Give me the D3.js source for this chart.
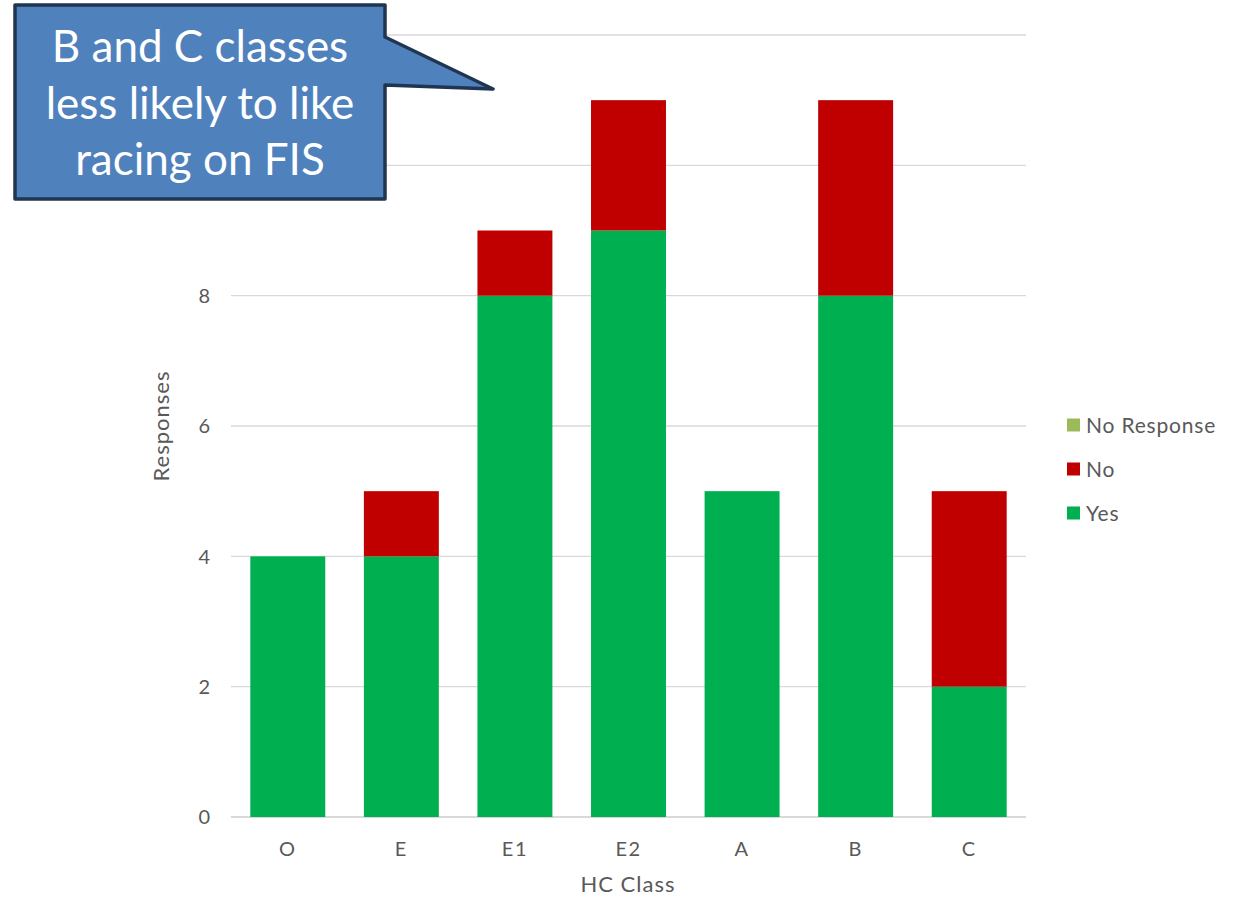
<!DOCTYPE html>
<html><head><meta charset="utf-8">
<script src="https://cdn.jsdelivr.net/npm/d3@7"></script>
<style>body{margin:0;background:#fff;} text{font-family:Lato,"Open Sans",sans-serif;}</style>
</head><body>
<svg id="c" width="1248" height="900"></svg>
<script>
const categories = ["O","E","E1","E2","A","B","C"];
const yesValues = [4,4,8,9,5,8,2];
const noValues = [0,1,1,2,0,3,3];
const noResponseValues = [0,0,0,0,0,0,0];
const seriesNames = ["Yes","No","No Response"];
const seriesColors = ["#00b050","#c00000","#9bbb59"];
const yTicks = [0,2,4,6,8,10,12];
const yTickLabels = [0,2,4,6,8]; // 10 and 12 are hidden behind the callout
const calloutLines = ["B and C classes","less likely to like","racing on FIS"];

const svg = d3.select("#c");
const m = {left:231, right:1026, top:35, bottom:817};
const x = d3.scaleBand().domain(categories).range([m.left, m.right]).paddingInner(0.34).paddingOuter(0.17);
const y = d3.scaleLinear().domain([0,12]).range([m.bottom, m.top]);

const rows = categories.map((c,i)=>({cat:c, Yes:yesValues[i], No:noValues[i], "No Response":noResponseValues[i]}));
const stack = d3.stack().keys(seriesNames)(rows);

// gridlines
svg.append("g").selectAll("line").data(yTicks).join("line")
  .attr("x1", m.left).attr("x2", m.right)
  .attr("y1", d=>y(d)).attr("y2", d=>y(d))
  .attr("stroke", "#d9d9d9").attr("stroke-width", d=>d===0?2:1.3);

// y tick labels
svg.append("g").selectAll("text").data(yTickLabels).join("text")
  .attr("x", 210).attr("y", d=>y(d)).attr("dy","0.36em")
  .attr("text-anchor","end").attr("font-size",20).attr("fill","#595959")
  .text(d=>d);

// bars
svg.append("g").selectAll("g").data(stack).join("g")
  .attr("fill",(d,i)=>seriesColors[i])
  .selectAll("rect").data(d=>d).join("rect")
  .attr("x", d=>x(d.data.cat)).attr("width", x.bandwidth())
  .attr("y", d=>y(d[1])).attr("height", d=>y(d[0])-y(d[1]));

// x labels
svg.append("g").selectAll("text").data(categories).join("text")
  .attr("x", d=>x(d)+x.bandwidth()/2).attr("y", 856)
  .attr("text-anchor","middle").attr("font-size",20).attr("fill","#595959")
  .attr("letter-spacing", "1.5px")
  .text(d=>d);

// axis titles
svg.append("text").attr("x",628).attr("y",892).attr("text-anchor","middle")
  .attr("font-size",22).attr("letter-spacing","1px").attr("fill","#595959").text("HC Class");
svg.append("text").attr("transform","translate(169,426) rotate(-90)").attr("text-anchor","middle")
  .attr("font-size",22).attr("letter-spacing","1px").attr("fill","#595959").text("Responses");

// legend
const legendOrder = [2,1,0];
const lg = svg.append("g").selectAll("g").data(legendOrder).join("g")
  .attr("transform",(d,i)=>`translate(1067,${425 + i*44})`);
lg.append("rect").attr("x",0).attr("y",-6.5).attr("width",13).attr("height",13).attr("fill",d=>seriesColors[d]);
lg.append("text").attr("x",19).attr("y",0).attr("dy","0.36em").attr("font-size",21)
  .attr("letter-spacing","0.8px").attr("fill","#595959")
  .text(d=>seriesNames[d]);

// callout
const cp = d3.path();
cp.moveTo(15,5); cp.lineTo(385,5); cp.lineTo(385,37); cp.lineTo(493,89); cp.lineTo(385,85);
cp.lineTo(385,199); cp.lineTo(15,199); cp.closePath();
svg.append("path").attr("d", cp.toString()).attr("fill","#4f81bd").attr("stroke","#1f3552")
  .attr("stroke-width",3.5).attr("stroke-linejoin","round");
svg.append("g").selectAll("text").data(calloutLines).join("text")
  .attr("x",200).attr("y",(d,i)=>62+i*56.5).attr("text-anchor","middle")
  .attr("font-size",44).attr("fill","#ffffff").text(d=>d);
</script>
</body></html>
